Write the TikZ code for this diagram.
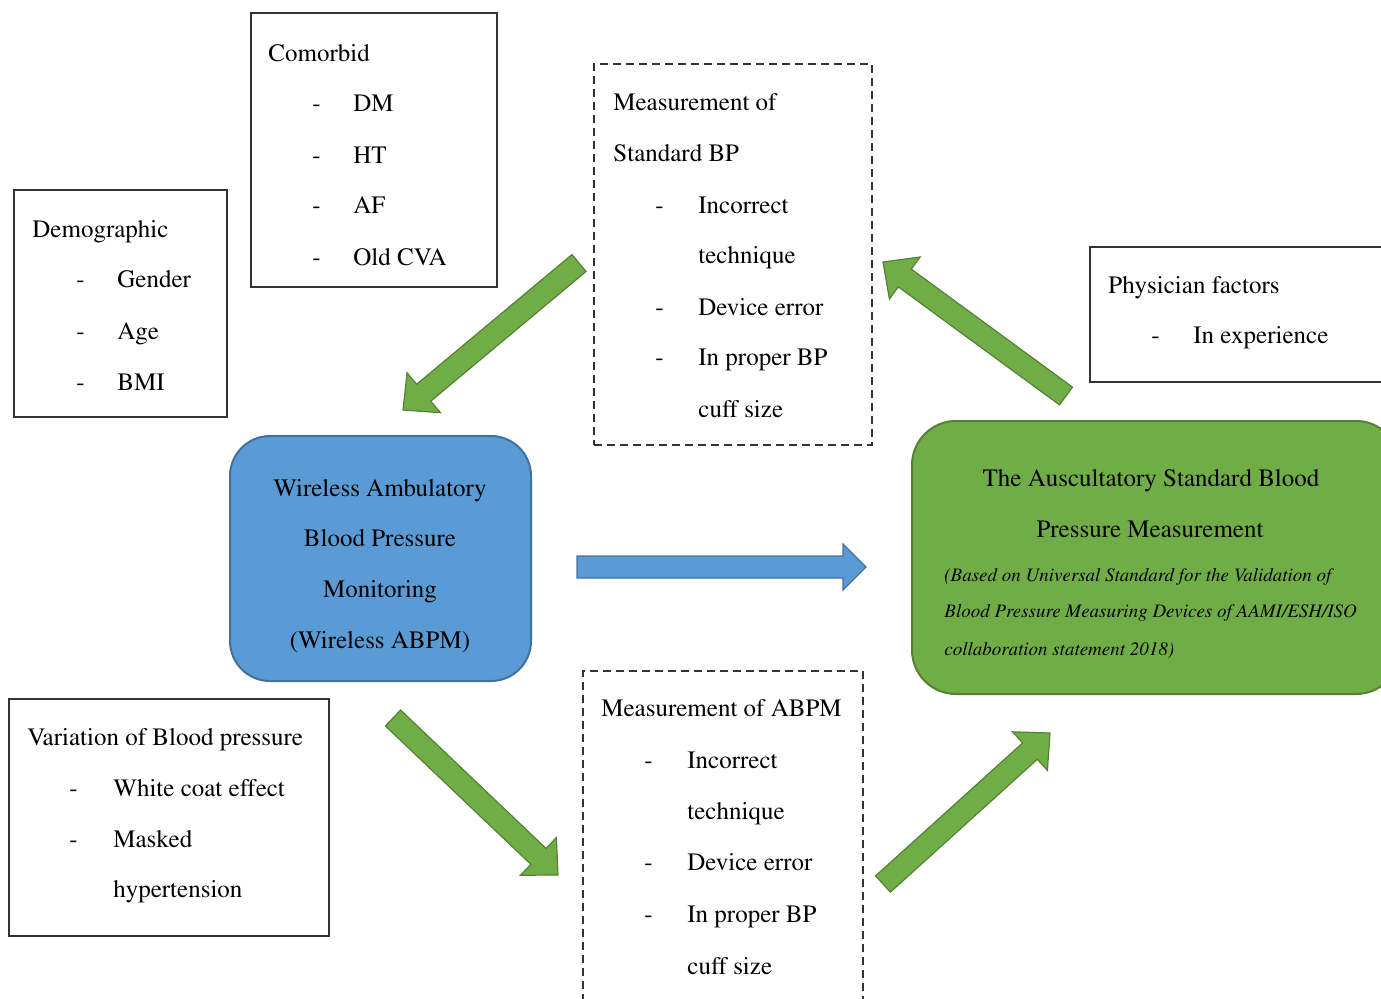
\documentclass[tikz,border=0pt]{standalone}
\usepackage[T1]{fontenc}
\renewcommand{\rmdefault}{ptm}
\usetikzlibrary{calc, fit}

\definecolor{boxgreen}{HTML}{70AD47}
\definecolor{edgegreen}{HTML}{548235}
\definecolor{boxblue}{HTML}{5B9BD5}
\definecolor{edgeblue}{HTML}{41719C}

\tikzset{
  plainbox/.style={draw=black!80, line width=0.75pt, inner sep=0pt},
  dashbox/.style={plainbox, dash pattern=on 4pt off 2.5pt},
  txt/.style={inner sep=0pt, anchor=base west, font=\rmfamily\fontsize{12.5}{15}\selectfont},
  ctxt/.style={txt, anchor=base},
  note/.style={txt, font=\rmfamily\fontsize{9.5}{12}\selectfont\itshape},
  greenarrow/.style={fill=boxgreen, draw=edgegreen, line width=0.6pt, line join=miter},
  bluearrow/.style={fill=boxblue, draw=edgeblue, line width=0.6pt, line join=miter},
}

% block arrow: tail, tip, half shaft, half head, head length, style
\newcommand{\blockarrow}[6]{%
  \coordinate (#1-base) at ($(#2)!#5!(#1)$);
  \draw[#6] ($(#1)!#3!90:(#2)$) -- ($(#1-base)!#3!90:(#2)$) -- ($(#1-base)!#4!90:(#2)$) -- (#2)
    -- ($(#1-base)!#4!-90:(#2)$) -- ($(#1-base)!#3!-90:(#2)$) -- ($(#1)!#3!-90:(#2)$) -- cycle;
}

\begin{document}
\begin{tikzpicture}[x=0.5pt, y=-0.5pt]

    \clip (0,0) rectangle (1381,998);

    % Demographic
    \node[plainbox, fit={(14,190) (227,417)}] (demo) {};
    \node[txt] (demo-head) at (32,237) {Demographic};
    \foreach \entry/\yy [count=\i] in {Gender/287, Age/339, BMI/390} {
        \node[txt] (demo-dash\i) at (76,\yy) {-};
        \node[txt] (demo-\i) at (117,\yy) {\entry};
    }

    % Comorbid
    \node[plainbox, fit={(251,13) (497,287)}] (como) {};
    \node[txt] (como-head) at (268,61) {Comorbid};
    \foreach \entry/\yy [count=\i] in {DM/111, HT/163, AF/213, Old CVA/265} {
        \node[txt] (como-dash\i) at (312,\yy) {-};
        \node[txt] (como-\i) at (353,\yy) {\entry};
    }

    % Measurement of standard BP
    \node[dashbox, fit={(594,64) (872,445)}] (stdbp) {};
    \node[txt] (stdbp-head1) at (613,110) {Measurement of};
    \node[txt] (stdbp-head2) at (613,161) {Standard BP};
    \foreach \entry/\yy [count=\i] in {Incorrect/213, technique/263, Device error/315, In proper BP/365, cuff size/417} {
        \node[txt] (stdbp-\i) at (698,\yy) {\entry};
    }
    \node[txt] (stdbp-dash1) at (655,213) {-};
    \node[txt] (stdbp-dash2) at (655,315) {-};
    \node[txt] (stdbp-dash3) at (655,365) {-};

    % Physician factors
    \node[plainbox, fit={(1090,247) (1400,382)}] (phys) {};
    \node[txt] (phys-head) at (1108,293) {Physician factors};
    \node[txt] (phys-dash1) at (1151,343) {-};
    \node[txt] (phys-1) at (1193,343) {In experience};

    % Wireless ABPM
    \node[fit={(230,436) (531,681)}, inner sep=0pt, rounded corners=20pt,
          fill=boxblue, draw=edgeblue, line width=1pt] (wabpm) {};
    \foreach \entry/\yy [count=\i] in {Wireless Ambulatory/496, Blood Pressure/546, Monitoring/597, (Wireless ABPM)/648} {
        \node[ctxt] (wabpm-\i) at (380,\yy) {\entry};
    }

    % Auscultatory standard
    \node[fit={(912,421) (1400,694)}, inner sep=0pt, rounded corners=22pt,
          fill=boxgreen, draw=edgegreen, line width=1pt] (ausc) {};
    \node[ctxt] (ausc-head1) at (1151,486) {The Auscultatory Standard Blood};
    \node[ctxt] (ausc-head2) at (1150,537) {Pressure Measurement};
    \node[note] (ausc-1) at (944,581) {(Based on Universal Standard for the Validation of};
    \node[note] (ausc-2) at (944,617) {Blood Pressure Measuring Devices of AAMI/ESH/ISO};
    \node[note] (ausc-3) at (944,655) {collaboration statement 2018)};

    % Variation of blood pressure
    \node[plainbox, fit={(9,699) (329,936)}] (vari) {};
    \node[txt] (vari-head) at (27,745) {Variation of Blood pressure};
    \foreach \entry/\yy [count=\i] in {White coat effect/796, Masked/847, hypertension/897} {
        \node[txt] (vari-\i) at (113,\yy) {\entry};
    }
    \node[txt] (vari-dash1) at (69,796) {-};
    \node[txt] (vari-dash2) at (69,847) {-};

    % Measurement of ABPM
    \node[dashbox, fit={(583,671) (863,1010)}] (mabpm) {};
    \node[txt] (mabpm-head) at (601,716) {Measurement of ABPM};
    \foreach \entry/\yy [count=\i] in {Incorrect/768, technique/819, Device error/870, In proper BP/922, cuff size/974} {
        \node[txt] (mabpm-\i) at (687,\yy) {\entry};
    }
    \node[txt] (mabpm-dash1) at (644,768) {-};
    \node[txt] (mabpm-dash2) at (644,870) {-};
    \node[txt] (mabpm-dash3) at (644,922) {-};

    % Arrows
    \coordinate (a1s) at (579,263);  \coordinate (a1e) at (403,410);
    \coordinate (a2s) at (1066,396); \coordinate (a2e) at (883,262);
    \coordinate (a3s) at (393,718);  \coordinate (a3e) at (558,875);
    \coordinate (a4s) at (883,884);  \coordinate (a4e) at (1050,733);
    \coordinate (a5s) at (577,567);  \coordinate (a5e) at (866,567);

    \blockarrow{a1s}{a1e}{5.5pt}{13pt}{13.5pt}{greenarrow}
    \blockarrow{a2s}{a2e}{5.5pt}{13pt}{13.5pt}{greenarrow}
    \blockarrow{a3s}{a3e}{5.5pt}{13pt}{13.5pt}{greenarrow}
    \blockarrow{a4s}{a4e}{5.5pt}{13pt}{13.5pt}{greenarrow}
    \blockarrow{a5s}{a5e}{5.5pt}{11.5pt}{11.5pt}{bluearrow}

\end{tikzpicture}
\end{document}
